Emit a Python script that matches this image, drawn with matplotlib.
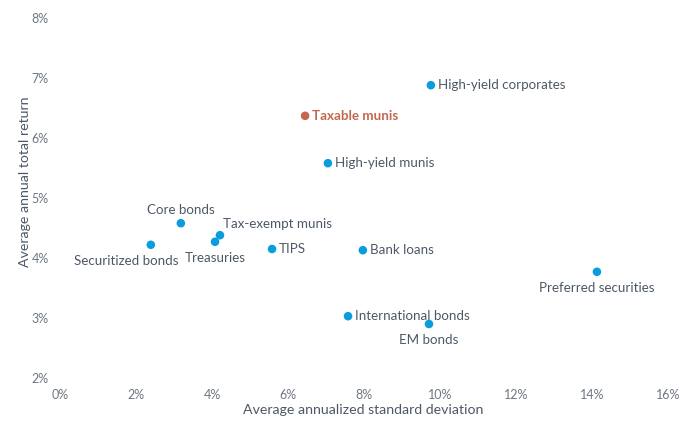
import matplotlib.pyplot as plt
from matplotlib.ticker import FuncFormatter

# data: average annualized std dev (%) vs average annual total return (%)
names = ["High-yield corporates", "Taxable munis", "High-yield munis", "Core bonds",
         "Tax-exempt munis", "Treasuries", "Securitized bonds", "TIPS", "Bank loans",
         "Preferred securities", "International bonds", "EM bonds"]
std_dev = [9.76, 6.45, 7.05, 3.18, 4.21, 4.08, 2.39, 5.58, 7.97, 14.13, 7.58, 9.71]
returns = [6.88, 6.37, 5.58, 4.58, 4.38, 4.27, 4.22, 4.15, 4.13, 3.77, 3.03, 2.90]

# where each label sits relative to its dot
label_pos = ["right", "right", "right", "above", "aboveright", "below", "belowleft",
             "right", "right", "below", "right", "below"]

BLUE = "#0a9ddd"
RED = "#c4674f"
TEXT = "#4d5866"
TICK = "#6e7782"

plt.rcParams['font.family'] = ['Lato', 'DejaVu Sans']

fig = plt.figure(figsize=(7, 4.21), dpi=100)
ax = fig.add_axes([60 / 700, 43 / 421, 608 / 700, 360 / 421])

colors = [RED if n == "Taxable munis" else BLUE for n in names]
ax.scatter(std_dev, returns, s=38, c=colors, zorder=3, linewidths=0)

offsets = {
    "right": ((5, 0), "left", "center"),
    "above": ((0, 5), "center", "bottom"),
    "aboveright": ((2, 3.5), "left", "bottom"),
    "below": ((0, -7), "center", "top"),
    "belowleft": ((-18, -7), "center", "top"),
}
for n, x, y, pos in zip(names, std_dev, returns, label_pos):
    off, ha, va = offsets[pos]
    bold = n == "Taxable munis"
    ax.annotate(n, (x, y), xytext=off, textcoords="offset points", ha=ha, va=va,
                fontsize=9.6, color=RED if bold else TEXT,
                fontweight="bold" if bold else "normal")

ax.set_xlim(0, 16)
ax.set_ylim(2, 8)
ax.set_xticks(range(0, 17, 2))
ax.set_yticks(range(2, 9))
pct = FuncFormatter(lambda v, p: f"{v:.0f}%")
ax.xaxis.set_major_formatter(pct)
ax.yaxis.set_major_formatter(pct)
ax.tick_params(length=0, labelsize=9, colors=TICK, pad=8)
for s in ax.spines.values():
    s.set_visible(False)

ax.set_xlabel("Average annualized standard deviation", fontsize=10.2, color=TEXT,
              va="center")
ax.set_ylabel("Average annual total return", fontsize=10.2, color=TEXT, va="center")
ax.xaxis.set_label_coords(0.498, -0.089)
ax.yaxis.set_label_coords(-0.0576, 0.544)

fig.savefig("out.png", dpi=100)
